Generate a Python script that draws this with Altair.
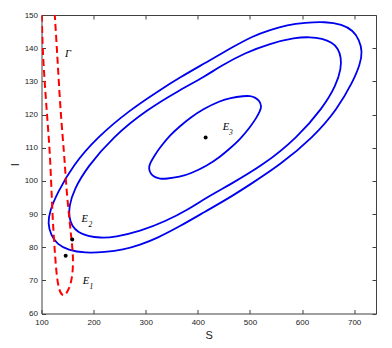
import altair as alt
import pandas as pd

# ---- data ----
S_outer = [111.9, 118.2, 129.8, 150.9, 183.5, 221.9, 256.5, 289.1, 321.8, 365.9, 413.9, 461.9, 500.3, 557.9, 621.3, 667.4, 698.1, 711.5, 716.0,
           709.6, 698.1, 677.0, 644.3, 605.9, 571.4, 538.7, 506.1, 461.9, 413.9, 365.9, 327.5, 269.9, 206.6, 160.5, 129.8, 116.3]
I_outer = [87.2, 83.6, 80.9, 79.1, 78.2, 78.5, 79.2, 80.7, 82.7, 86.3, 90.7, 95.0, 98.9, 104.8, 113.1, 121.5, 130.0, 135.1, 139.0,
           142.6, 145.3, 147.2, 148.0, 147.7, 147.0, 145.5, 143.7, 139.9, 135.5, 131.2, 127.4, 121.4, 113.1, 104.7, 96.2, 91.1]

S_middle = [152.8, 158.6, 170.1, 189.3, 212.3, 241.1, 289.1, 337.1, 385.1, 413.9, 461.9, 525.3, 590.6, 640.5, 665.5, 675.1, 675.1,
            669.3, 657.8, 638.6, 615.6, 586.8, 538.7, 490.7, 442.7, 413.9, 365.9, 302.6, 237.3, 187.4, 162.4, 152.8]
I_middle = [89.0, 86.3, 84.5, 83.3, 82.8, 83.0, 84.8, 87.7, 91.7, 94.7, 98.9, 104.7, 113.0, 122.1, 128.8, 133.9, 137.2,
            139.9, 141.7, 142.9, 143.4, 143.2, 141.4, 138.6, 134.5, 131.5, 127.4, 121.5, 113.3, 104.1, 97.4, 92.3]

S_inner = [305.5, 309.3, 317.0, 327.5, 339.1, 365.9, 385.1, 417.2, 442.7, 461.9, 481.1, 500.3, 511.9, 519.6, 522.4,
           518.6, 510.9, 500.3, 488.8, 461.9, 442.7, 410.7, 385.1, 365.9, 346.7, 327.5, 316.0, 308.3]
I_inner = [103.8, 102.1, 101.1, 100.6, 100.6, 101.2, 102.1, 104.5, 107.2, 109.8, 112.5, 116.2, 118.8, 121.1, 122.4,
           124.1, 125.1, 125.6, 125.6, 125.0, 124.1, 121.7, 119.0, 116.5, 113.8, 110.1, 107.4, 105.3]

S_gamma = [100.5, 102, 106, 110.5, 115.5, 118.5, 120.5, 123, 126, 129, 133.5, 140.5, 147, 153, 158.5, 160.5, 160.5, 158.5, 156, 153, 149, 146, 143.5, 138, 133.5, 129.5, 125.5]
I_gamma = [150, 140, 130, 120, 110, 100, 92, 84.5, 77.6, 71.5, 67, 65.2, 65.8, 67.5, 70.5, 74, 77.6, 81, 84.5, 89.5, 95.5, 102, 108, 118, 129, 140, 150]

eq_names = ["E1", "E2", "E3"]
eq_S = [146.4, 159, 415]
eq_I = [77.4, 82.3, 113.1]

main_labels = ["E", "E", "E", "Γ"]
main_S = [179, 177, 448, 145]
main_I = [69.0, 87.6, 115.3, 137.4]
sub_labels = ["1", "2", "3"]
sub_S = [192, 190, 460]
sub_I = [67.3, 86.1, 113.8]

x_ticks = [100, 200, 300, 400, 500, 600, 700]
y_ticks = [60, 70, 80, 90, 100, 110, 120, 130, 140, 150]

# ---- tables ----
rows = []
for name, ss, ii in [("outer", S_outer, I_outer), ("middle", S_middle, I_middle), ("inner", S_inner, I_inner)]:
    for k, (s, i) in enumerate(zip(ss, ii)):
        rows.append({"curve": name, "k": k, "S": s, "I": i})
df_ell = pd.DataFrame(rows)
df_gamma = pd.DataFrame({"k": range(len(S_gamma)), "S": S_gamma, "I": I_gamma})
df_eq = pd.DataFrame({"name": eq_names, "S": eq_S, "I": eq_I})
df_main = pd.DataFrame({"t": main_labels, "S": main_S, "I": main_I})
df_sub = pd.DataFrame({"t": sub_labels, "S": sub_S, "I": sub_I})

xs = alt.Scale(domain=[100, 742], nice=False, zero=False)
ys = alt.Scale(domain=[60, 150], nice=False, zero=False)

tick_style = dict(grid=False, domain=False, tickSize=4, tickColor="#404040", offset=-4)
label_style = dict(labelFont="Liberation Sans", labelFontSize=8, labelColor="#1a1a1a",
                   labelOverlap=False, labelFlush=False,
                   titleFont="Liberation Sans", titleFontSize=11, titleFontWeight="normal", titleColor="#1a1a1a")

ax_bottom = alt.Axis(orient="bottom", values=x_ticks, title="S", labelPadding=5, titlePadding=3, **tick_style, **label_style)
ax_left = alt.Axis(orient="left", values=y_ticks, title="I", labelPadding=4, titlePadding=4, **tick_style, **label_style)
ax_top = alt.Axis(orient="top", values=x_ticks, title=None, labels=False, **tick_style)
ax_right = alt.Axis(orient="right", values=y_ticks, title=None, labels=False, **tick_style)

ellipses = alt.Chart(df_ell).mark_line(
    color="#0000F0", strokeWidth=1.8, interpolate="basis-closed", clip=True
).encode(
    x=alt.X("S:Q", scale=xs, axis=ax_bottom),
    y=alt.Y("I:Q", scale=ys, axis=ax_left),
    detail="curve:N",
    order="k:Q",
)

gamma = alt.Chart(df_gamma).mark_line(
    color="#FF0000", strokeWidth=2, strokeDash=[7, 4], interpolate="basis", clip=True
).encode(
    x=alt.X("S:Q", scale=xs, axis=None),
    y=alt.Y("I:Q", scale=ys, axis=None),
    order="k:Q",
)

points = alt.Chart(df_eq).mark_circle(color="black", size=16, opacity=1).encode(
    x=alt.X("S:Q", scale=xs, axis=ax_top),
    y=alt.Y("I:Q", scale=ys, axis=ax_right),
)

main_text = alt.Chart(df_main).mark_text(
    font="Liberation Serif", fontStyle="italic", fontSize=10.5, align="left", baseline="alphabetic", color="black"
).encode(
    x=alt.X("S:Q", scale=xs, axis=None),
    y=alt.Y("I:Q", scale=ys, axis=None),
    text="t:N",
)

sub_text = alt.Chart(df_sub).mark_text(
    font="Liberation Serif", fontStyle="italic", fontSize=7.5, align="left", baseline="alphabetic", color="black"
).encode(
    x=alt.X("S:Q", scale=xs, axis=None),
    y=alt.Y("I:Q", scale=ys, axis=None),
    text="t:N",
)

chart = alt.layer(ellipses, gamma, points, main_text, sub_text).resolve_axis(
    x="independent", y="independent"
).properties(
    width=334.5,
    height=298.5,
    autosize=alt.AutoSizeParams(type="none"),
    padding={"left": 33.5, "top": 7, "right": 8, "bottom": 30},
).configure_view(stroke="#404040", strokeWidth=1)

chart.save("out.html", embed_options={"renderer": "svg", "actions": False})
